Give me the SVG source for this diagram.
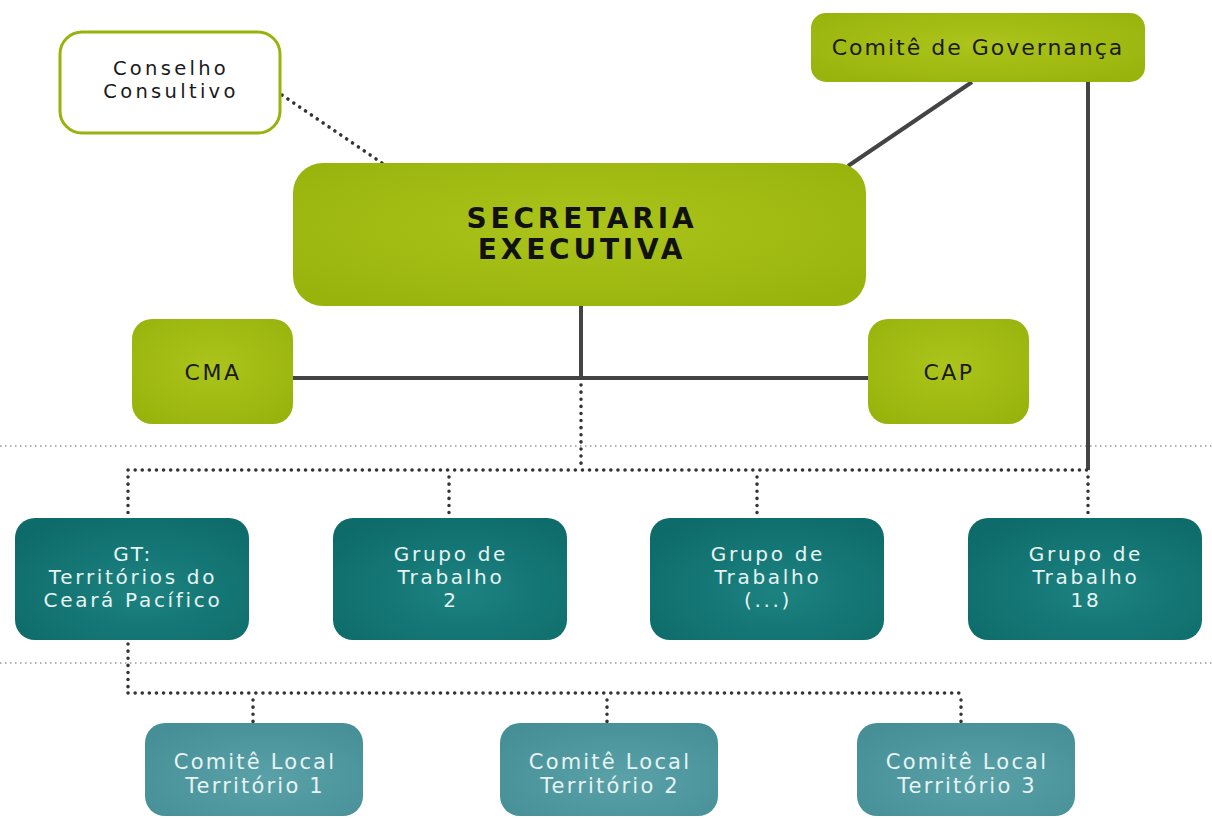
<svg xmlns="http://www.w3.org/2000/svg" width="1212" height="819" viewBox="0 0 1212 819">
<defs>
<radialGradient id="gLime" cx="50%" cy="45%" r="65%">
<stop offset="0" stop-color="#acc41c"/>
<stop offset="1" stop-color="#98b40c"/>
</radialGradient>
<radialGradient id="gTeal" cx="55%" cy="60%" r="70%">
<stop offset="0" stop-color="#1c8280"/>
<stop offset="1" stop-color="#0d6b69"/>
</radialGradient>
<radialGradient id="gLight" cx="55%" cy="60%" r="70%">
<stop offset="0" stop-color="#5aa1a8"/>
<stop offset="1" stop-color="#468f96"/>
</radialGradient>
</defs>
<style>
.lime{fill:url(#gLime);}
.teal{fill:url(#gTeal);}
.light{fill:url(#gLight);}
.outline{fill:#ffffff;stroke:#98b40c;stroke-width:3;}
.t{font-family:"DejaVu Sans","Liberation Sans",sans-serif;text-anchor:middle;font-size:20px;letter-spacing:2.7px;}
.dk{fill:#1a1a1a;}
.wh{fill:#e8f3f3;}
.big{font-family:"DejaVu Sans","Liberation Sans",sans-serif;font-weight:bold;font-size:28px;fill:#111;letter-spacing:3.8px;text-anchor:middle;}
.solid{stroke:#444;stroke-width:4;fill:none;}
.dot{stroke:#333;stroke-width:3.5;fill:none;stroke-dasharray:0.1 7;stroke-linecap:round;}
.sep{stroke:#999;stroke-width:1.5;fill:none;stroke-dasharray:1.5 3.5;}
</style>
<g id="separators">
<line class="sep" x1="0" y1="446" x2="1212" y2="446"/>
<line class="sep" x1="0" y1="663" x2="1212" y2="663"/>
</g>
<g id="connectors">
<line class="dot" x1="282" y1="95" x2="382" y2="163"/>
<line class="solid" x1="972" y1="82" x2="848" y2="166"/>
<line class="solid" x1="1088" y1="82" x2="1088" y2="470"/>
<line class="solid" x1="581" y1="306" x2="581" y2="378"/>
<line class="solid" x1="293" y1="378" x2="868" y2="378"/>
<line class="dot" x1="581" y1="385" x2="581" y2="470"/>
<line class="dot" x1="128" y1="470" x2="1088" y2="470"/>
<line class="dot" x1="128" y1="477" x2="128" y2="518"/>
<line class="dot" x1="449" y1="477" x2="449" y2="518"/>
<line class="dot" x1="757" y1="477" x2="757" y2="518"/>
<line class="dot" x1="1088" y1="477" x2="1088" y2="518"/>
<line class="dot" x1="128" y1="644" x2="128" y2="693"/>
<line class="dot" x1="128" y1="693" x2="961" y2="693"/>
<line class="dot" x1="253" y1="700" x2="253" y2="723"/>
<line class="dot" x1="607" y1="700" x2="607" y2="723"/>
<line class="dot" x1="961" y1="700" x2="961" y2="723"/>
</g>
<g id="conselho">
<rect class="outline" x="60" y="32" width="220" height="101" rx="22"/>
<text class="t dk" x="171" y="75" style="font-size:19.5px;letter-spacing:3.3px">Conselho</text>
<text class="t dk" x="171" y="98" style="font-size:19.5px;letter-spacing:3.3px">Consultivo</text>
</g>
<g id="comite-governanca">
<rect class="lime" x="811" y="13" width="334" height="69" rx="15"/>
<text class="t dk" x="978" y="55" style="font-size:22px;letter-spacing:2px">Comitê de Governança</text>
</g>
<g id="secretaria">
<rect class="lime" x="293" y="163" width="573" height="143" rx="30"/>
<text class="big" x="582" y="228">SECRETARIA</text>
<text class="big" x="582" y="259">EXECUTIVA</text>
</g>
<g id="cma">
<rect class="lime" x="132" y="319" width="161" height="105" rx="20"/>
<text class="t dk" x="213" y="380" style="font-size:22px;letter-spacing:2.5px">CMA</text>
</g>
<g id="cap">
<rect class="lime" x="868" y="319" width="161" height="105" rx="20"/>
<text class="t dk" x="949" y="380" style="font-size:22px;letter-spacing:2.5px">CAP</text>
</g>
<g id="gt-territorios">
<rect class="teal" x="15" y="518" width="234" height="122" rx="20"/>
<text class="t wh" x="133" y="561">GT:</text>
<text class="t wh" x="133" y="584">Territórios do</text>
<text class="t wh" x="133" y="607">Ceará Pacífico</text>
</g>
<g id="grupo-2">
<rect class="teal" x="333" y="518" width="234" height="122" rx="20"/>
<text class="t wh" x="451" y="561">Grupo de</text>
<text class="t wh" x="451" y="584">Trabalho</text>
<text class="t wh" x="451" y="607">2</text>
</g>
<g id="grupo-etc">
<rect class="teal" x="650" y="518" width="234" height="122" rx="20"/>
<text class="t wh" x="768" y="561">Grupo de</text>
<text class="t wh" x="768" y="584">Trabalho</text>
<text class="t wh" x="768" y="607">(...)</text>
</g>
<g id="grupo-18">
<rect class="teal" x="968" y="518" width="234" height="122" rx="20"/>
<text class="t wh" x="1086" y="561">Grupo de</text>
<text class="t wh" x="1086" y="584">Trabalho</text>
<text class="t wh" x="1086" y="607">18</text>
</g>
<g id="comite-local-1">
<rect class="light" x="145" y="723" width="218" height="93" rx="20"/>
<text class="t wh" x="255" y="769" style="font-size:21px;letter-spacing:2.2px">Comitê Local</text>
<text class="t wh" x="255" y="793" style="font-size:21px;letter-spacing:2.2px">Território 1</text>
</g>
<g id="comite-local-2">
<rect class="light" x="500" y="723" width="218" height="93" rx="20"/>
<text class="t wh" x="610" y="769" style="font-size:21px;letter-spacing:2.2px">Comitê Local</text>
<text class="t wh" x="610" y="793" style="font-size:21px;letter-spacing:2.2px">Território 2</text>
</g>
<g id="comite-local-3">
<rect class="light" x="857" y="723" width="218" height="93" rx="20"/>
<text class="t wh" x="967" y="769" style="font-size:21px;letter-spacing:2.2px">Comitê Local</text>
<text class="t wh" x="967" y="793" style="font-size:21px;letter-spacing:2.2px">Território 3</text>
</g>
</svg>
